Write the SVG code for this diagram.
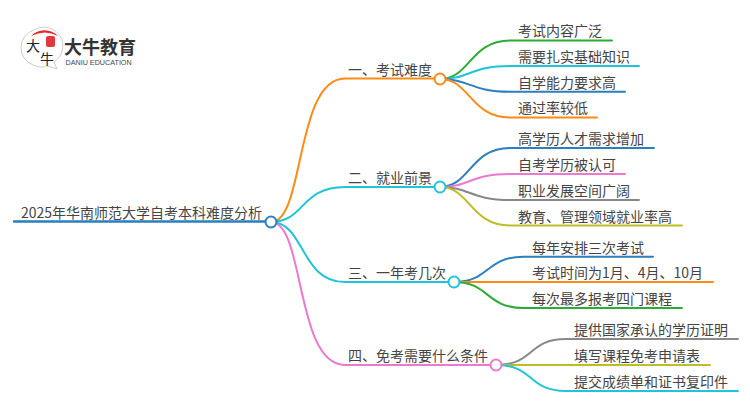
<svg xmlns="http://www.w3.org/2000/svg" width="750" height="410" viewBox="0 0 750 410">
<style>
text{font-family:"Noto Sans CJK SC","Noto Sans",sans-serif;font-size:14px;fill:#444}
.c{fill:none;stroke-width:2;stroke-linecap:round}
.n{fill:#fff;stroke-width:2}
.or{stroke:#ff8a14}.cy{stroke:#1fc4d8}.bl{stroke:#2a7fbf}.gr{stroke:#2eab36}.pk{stroke:#ec79cf}.gy{stroke:#888}.ol{stroke:#bdbd26}
</style>
<rect width="750" height="410" fill="#fff"/>
<g id="logo">
<path d="M34 30A18.500 18.500 0 0 0 33 65C39 68 45 67 48 66L57 69L54 62A18.500 18.500 0 0 0 34 30Z" fill="#fff" stroke="#ccc"/>
<path d="M31 36A18.500 18.500 0 0 1 58 36Q45 29 31 36Z" fill="#e8262c"/>
<rect x="46" y="36" width="9" height="11" rx="2" fill="#e0383c"/>
<text x="26" y="51" style="font-size:14px;fill:#222">大</text>
<text x="40" y="64" style="font-size:14px;fill:#222">牛</text>
<text x="64" y="53.500" style="font-size:18px;font-weight:700;fill:#333">大牛教育</text>
<text x="65.500" y="64.500" style="font-size:7.200px;font-family:'Liberation Sans',sans-serif;fill:#444">DANIU EDUCATION</text>
</g>
<g id="connectors">
<path class="c bl" style="stroke-width:2.500" d="M14 221.500H271"/>
<path class="c or" d="M271 222C305 222 295 78.500 345 78.500H440"/>
<path class="c cy" d="M271 222C305 222 300 187 345 187H440"/>
<path class="c cy" d="M271 222C305 222 300 282 345 282H454"/>
<path class="c pk" d="M271 222C305 222 295 365 345 365H496"/>
<path class="c gr" d="M440 79C470 79 470 40.500 510 40.500H612"/>
<path class="c cy" d="M440 79C470 79 470 66 510 66H639"/>
<path class="c bl" d="M440 79C470 79 470 91.700 510 91.700H625"/>
<path class="c or" d="M440 79C470 79 470 117.500 510 117.500H597"/>
<path class="c bl" d="M440 187C470 187 470 148 510 148H654"/>
<path class="c pk" d="M440 187C470 187 470 174 510 174H625"/>
<path class="c gy" d="M440 187C470 187 470 200 510 200H639"/>
<path class="c ol" d="M440 187C470 187 470 225.500 510 225.500H682"/>
<path class="c bl" d="M454 282C490 282 485 256.700 524 256.700H653"/>
<path class="c or" d="M454 282H713"/>
<path class="c gr" d="M454 282C490 282 485 308 524 308H682"/>
<path class="c gy" d="M496 365C535 365 527 339 566 339H738"/>
<path class="c ol" d="M496 365H710"/>
<path class="c cy" d="M496 365C535 365 527 391 566 391H738"/>
</g>
<g id="root"><text x="21" y="218">2025年华南师范大学自考本科难度分析</text><circle class="n bl" cx="271" cy="222" r="5.500"/></g>
<g id="b1"><text x="348" y="75">一、考试难度</text><circle class="n or" cx="440" cy="79" r="5.500"/></g>
<g id="b2"><text x="348" y="183">二、就业前景</text><circle class="n cy" cx="440" cy="187" r="5.500"/></g>
<g id="b3"><text x="348" y="278">三、一年考几次</text><circle class="n cy" cx="454" cy="282" r="5.500"/></g>
<g id="b4"><text x="348" y="361">四、免考需要什么条件</text><circle class="n pk" cx="496" cy="365" r="5.500"/></g>
<g id="n11"><text x="518" y="36">考试内容广泛</text></g>
<g id="n12"><text x="518" y="62">需要扎实基础知识</text></g>
<g id="n13"><text x="518" y="88">自学能力要求高</text></g>
<g id="n14"><text x="518" y="113">通过率较低</text></g>
<g id="n21"><text x="518" y="144">高学历人才需求增加</text></g>
<g id="n22"><text x="518" y="170">自考学历被认可</text></g>
<g id="n23"><text x="518" y="196">职业发展空间广阔</text></g>
<g id="n24"><text x="518" y="222">教育、管理领域就业率高</text></g>
<g id="n31"><text x="532" y="253">每年安排三次考试</text></g>
<g id="n32"><text x="532" y="278">考试时间为1月、4月、10月</text></g>
<g id="n33"><text x="532" y="304">每次最多报考四门课程</text></g>
<g id="n41"><text x="574" y="335">提供国家承认的学历证明</text></g>
<g id="n42"><text x="574" y="361">填写课程免考申请表</text></g>
<g id="n43"><text x="574" y="387">提交成绩单和证书复印件</text></g>
</svg>
